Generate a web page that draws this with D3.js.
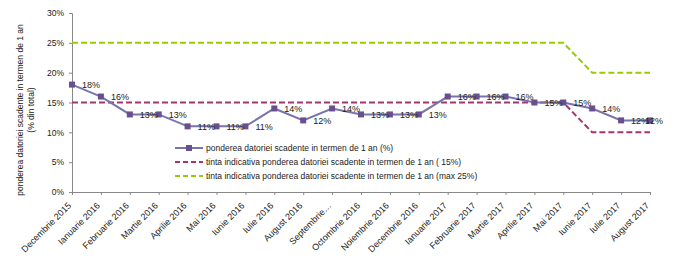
<!DOCTYPE html>
<html>
<head>
<meta charset="utf-8">
<script src="https://cdn.jsdelivr.net/npm/d3@7"></script>
<style>
  body { margin: 0; background: #fff; }
  text { font-family: "Liberation Sans", Arial, sans-serif; fill: #222; }
</style>
</head>
<body>
<div id="chart"></div>
<script>
var months = ["Decembrie 2015", "Ianuarie 2016", "Februarie 2016", "Martie 2016", "Aprilie 2016",
  "Mai 2016", "Iunie 2016", "Iulie 2016", "August 2016", "Septembrie…", "Octombrie 2016",
  "Noiembrie 2016", "Decembrie 2016", "Ianuarie 2017", "Februarie 2017", "Martie 2017",
  "Aprilie 2017", "Mai 2017", "Iunie 2017", "Iulie 2017", "August 2017"];

var pondere = [18, 16, 13, 13, 11, 11, 11, 14, 12, 14, 13, 13, 13, 16, 16, 16, 15, 15, 14, 12, 12];
var tintaMin = [15, 15, 15, 15, 15, 15, 15, 15, 15, 15, 15, 15, 15, 15, 15, 15, 15, 15, 10, 10, 10];
var tintaMax = [25, 25, 25, 25, 25, 25, 25, 25, 25, 25, 25, 25, 25, 25, 25, 25, 25, 25, 20, 20, 20];
var yTicks = [0, 5, 10, 15, 20, 25, 30];

var legendNames = [
  "ponderea datoriei scadente in termen de 1 an (%)",
  "tinta indicativa ponderea datoriei scadente in termen de 1 an (  15%)",
  "tinta indicativa ponderea datoriei scadente in termen de 1 an (max 25%)"
];

var svgWidth = 680;
var svgHeight = 267;

var svg = d3.select("#chart")
  .append("svg")
  .attr("width", svgWidth)
  .attr("height", svgHeight);

var x = d3.scalePoint()
  .domain(months)
  .range([72, 650]);

var y = d3.scaleLinear()
  .domain([0, 30])
  .range([192, 13]);

// axes
var leftAxis = d3.axisLeft(y)
  .tickValues(yTicks)
  .tickSize(3)
  .tickFormat(d => d + "%");

var yAxis = svg.append("g")
  .attr("transform", "translate(72,0)")
  .call(leftAxis);

yAxis.select(".domain").attr("stroke", "#888");
yAxis.selectAll(".tick line").attr("stroke", "#888");
yAxis.selectAll(".tick text")
  .attr("x", -8)
  .style("font-size", "8.5px")
  .style("font-family", "Liberation Sans, Arial, sans-serif")
  .attr("fill", "#222");

var bottomAxis = d3.axisBottom(x)
  .tickSize(3)
  .tickSizeOuter(0);

var xAxis = svg.append("g")
  .attr("transform", "translate(0,192)")
  .call(bottomAxis);

xAxis.select(".domain").attr("stroke", "#888");
xAxis.selectAll(".tick line").attr("stroke", "#888");
xAxis.selectAll(".tick text")
  .attr("x", 0)
  .attr("y", 0)
  .attr("dy", "0.35em")
  .attr("text-anchor", "end")
  .attr("transform", "translate(-3,12) rotate(-45)")
  .style("font-size", "9px")
  .style("font-family", "Liberation Sans, Arial, sans-serif")
  .attr("fill", "#222");

// y axis title
var yTitle = svg.append("text")
  .attr("transform", "translate(23,110) rotate(-90)")
  .attr("text-anchor", "middle")
  .style("font-size", "8.5px");
yTitle.append("tspan").attr("x", 0).attr("dy", 0).text("ponderea datoriei scadente in termen de 1 an");
yTitle.append("tspan").attr("x", 0).attr("dy", "1.25em").text("(% din total)");

// lines
var line = d3.line()
  .x((d, i) => x(months[i]))
  .y(d => y(d));

svg.append("path")
  .datum(tintaMax)
  .attr("d", line)
  .attr("fill", "none")
  .attr("stroke", "#99cc00")
  .attr("stroke-width", 2)
  .attr("stroke-dasharray", "6,3");

svg.append("path")
  .datum(tintaMin)
  .attr("d", line)
  .attr("fill", "none")
  .attr("stroke", "#a3356f")
  .attr("stroke-width", 2)
  .attr("stroke-dasharray", "6,3");

svg.append("path")
  .datum(pondere)
  .attr("d", line)
  .attr("fill", "none")
  .attr("stroke", "#7874ac")
  .attr("stroke-width", 2);

svg.selectAll(".marker")
  .data(pondere)
  .enter()
  .append("rect")
  .attr("class", "marker")
  .attr("x", (d, i) => x(months[i]) - 3)
  .attr("y", d => y(d) - 3)
  .attr("width", 6)
  .attr("height", 6)
  .attr("fill", "#6a4f8f");

// data labels, kept inside the plot area on the right
svg.selectAll(".lbl")
  .data(pondere)
  .enter()
  .append("text")
  .attr("class", "lbl")
  .attr("y", d => y(d))
  .attr("dy", "0.35em")
  .style("font-size", "9px")
  .text(d => d + "%")
  .attr("x", function(d, i) {
    var w = this.getComputedTextLength();
    return Math.min(x(months[i]) + 10, 663 - w);
  });

// legend
var legendColors = ["#7874ac", "#a3356f", "#99cc00"];
var legend = svg.append("g").attr("transform", "translate(175,148)");

legendNames.forEach(function(name, i) {
  var row = legend.append("g").attr("transform", `translate(0, ${i * 14})`);
  var ln = row.append("line")
    .attr("x1", 0).attr("x2", 28)
    .attr("y1", 0).attr("y2", 0)
    .attr("stroke", legendColors[i])
    .attr("stroke-width", 2);
  if (i > 0) {
    ln.attr("stroke-dasharray", "5,3");
  } else {
    row.append("rect")
      .attr("x", 11).attr("y", -3)
      .attr("width", 6).attr("height", 6)
      .attr("fill", "#6a4f8f");
  }
  row.append("text")
    .attr("x", 31)
    .attr("y", 0)
    .attr("dy", "0.35em")
    .style("font-size", "8.5px")
    .text(name);
});
</script>
</body>
</html>
